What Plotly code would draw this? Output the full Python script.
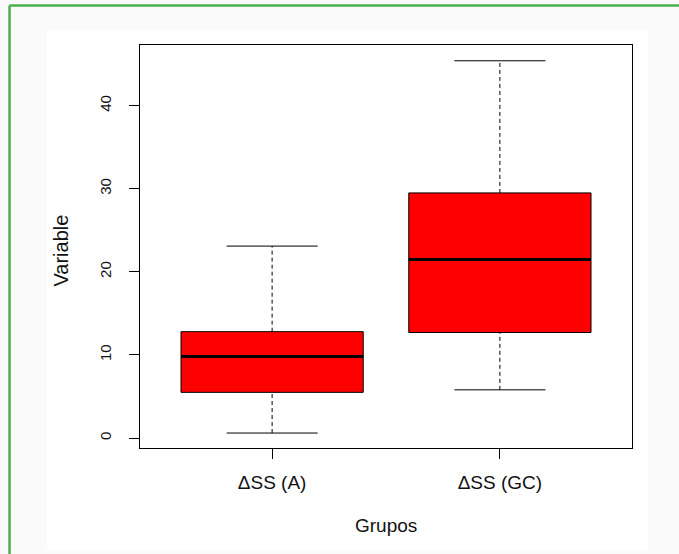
import plotly.graph_objects as go

# ---- data ----
groups = ["ΔSS (A)", "ΔSS (GC)"]
positions = [1, 2]
lower_whisker = [0.6, 5.8]
q1_vals = [5.5, 12.7]
median_vals = [9.8, 21.5]
q3_vals = [12.8, 29.5]
upper_whisker = [23.1, 45.4]
y_ticks = [0, 10, 20, 30, 40]

BOX_W = 0.8
CAP_W = 0.4

fig = go.Figure()

for i, g in enumerate(groups):
    x0 = positions[i]
    # box body (whiskers drawn separately)
    fig.add_trace(go.Box(
        x=[x0], q1=[q1_vals[i]], median=[median_vals[i]], q3=[q3_vals[i]],
        lowerfence=[q1_vals[i]], upperfence=[q3_vals[i]],
        width=BOX_W, whiskerwidth=0, fillcolor="#ff0000",
        line=dict(color="#000000", width=1), boxpoints=False,
        hoverinfo="skip", showlegend=False, name=g,
    ))
    # thick median
    fig.add_trace(go.Scatter(
        x=[x0 - BOX_W / 2, x0 + BOX_W / 2], y=[median_vals[i], median_vals[i]],
        mode="lines", line=dict(color="#000000", width=3),
        showlegend=False, hoverinfo="skip"))
    # dashed whiskers
    fig.add_trace(go.Scatter(
        x=[x0, x0, None, x0, x0],
        y=[lower_whisker[i], q1_vals[i], None, q3_vals[i], upper_whisker[i]],
        mode="lines", line=dict(color="#000000", width=1, dash="4px,3px"),
        showlegend=False, hoverinfo="skip"))
    # caps
    fig.add_trace(go.Scatter(
        x=[x0 - CAP_W / 2, x0 + CAP_W / 2, None, x0 - CAP_W / 2, x0 + CAP_W / 2],
        y=[lower_whisker[i], lower_whisker[i], None, upper_whisker[i], upper_whisker[i]],
        mode="lines", line=dict(color="#000000", width=1),
        showlegend=False, hoverinfo="skip"))

FONT = "Liberation Sans, Arial, sans-serif"

fig.update_layout(
    width=679, height=554,
    margin=dict(l=140, r=47, t=45, b=106),
    paper_bgcolor="#fafafa",
    plot_bgcolor="#ffffff",
    font=dict(family=FONT, color="#111111"),
    xaxis=dict(
        range=[0.42, 2.58], tickvals=positions, ticktext=groups,
        ticks="outside", ticklen=10, tickcolor="#000", showline=True,
        linecolor="#000", linewidth=1, mirror=True, showgrid=False,
        zeroline=False, tickfont=dict(size=19, family=FONT),
        ticklabelstandoff=7,
    ),
    yaxis=dict(
        range=[-1.2, 47.3], tickvals=y_ticks, tickangle=-90,
        ticks="outside", ticklen=10, tickcolor="#000", showline=True,
        linecolor="#000", linewidth=1, mirror=True, showgrid=False,
        zeroline=False, tickfont=dict(size=15, family=FONT),
        ticklabelstandoff=12,
    ),
    shapes=[
        dict(type="rect", xref="paper", yref="paper", x0=-0.189, x1=1.0325,
             y0=-0.253, y1=1.037, fillcolor="#ffffff", line=dict(width=0),
             layer="below"),
        dict(type="line", xref="paper", yref="paper", x0=-0.2652, x1=-0.2652,
             y0=-0.27, y1=1.098, line=dict(color="#4cb04c", width=2.5)),
        dict(type="line", xref="paper", yref="paper", x0=-0.2652, x1=1.1,
             y0=1.098, y1=1.098, line=dict(color="#4cb04c", width=2.5)),
    ],
    annotations=[
        dict(text="Grupos", xref="paper", yref="paper", x=0.5, y=-0.1935,
             showarrow=False, xanchor="center", yanchor="middle",
             font=dict(size=19, family=FONT)),
        dict(text="Variable", xref="paper", yref="paper", x=-0.1606, y=0.49,
             showarrow=False, xanchor="center", yanchor="middle", textangle=-90,
             font=dict(size=20, family=FONT)),
    ],
)

fig.write_html(
    "out.html",
    config={"displayModeBar": False},
    post_script="document.body.style.margin='0px';document.body.style.padding='0px';",
)
